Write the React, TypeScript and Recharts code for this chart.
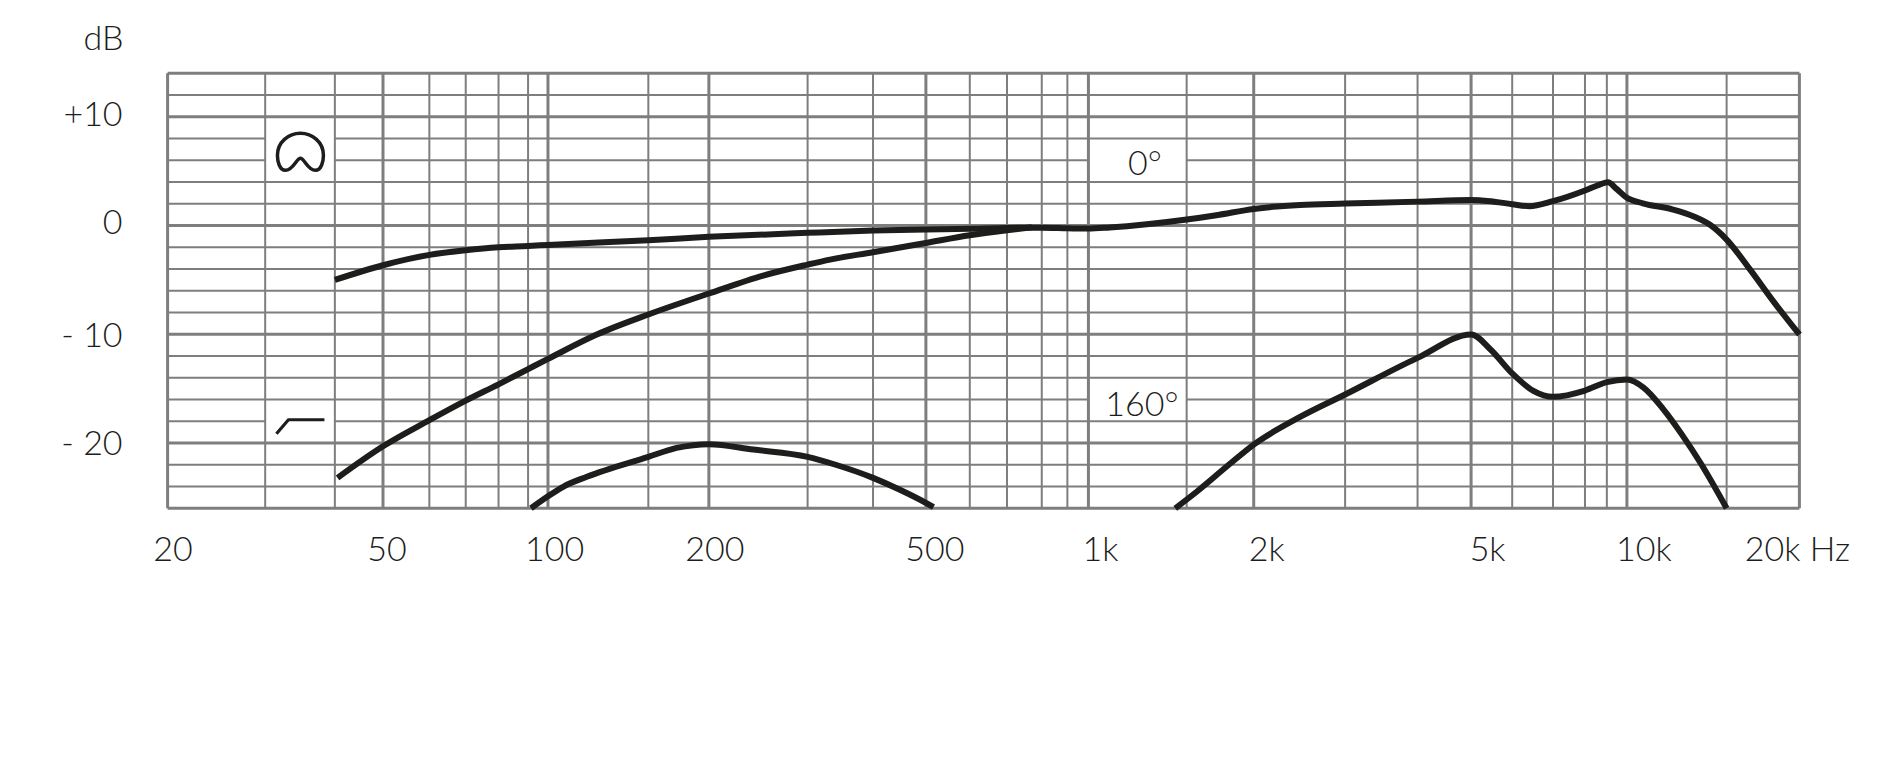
import React from "react";
import { LineChart, Line, XAxis, YAxis, ReferenceLine, ReferenceDot } from "recharts";

// Frequencies of the drawn vertical grid lines, and where the (hand-spaced) print puts them along the axis (0..1)
const gridFreqs = [20, 30, 40, 50, 60, 70, 80, 90, 100, 150, 200, 300, 400, 500, 600, 700, 800, 900, 1000, 1500, 2000, 3000, 4000, 5000, 6000, 7000, 8000, 9000, 10000, 15000, 20000];
const gridPlaces = [0, 0.0598, 0.1025, 0.1320, 0.1604, 0.1827, 0.2028, 0.2209, 0.2331, 0.2946, 0.3317, 0.3922, 0.4323, 0.4647, 0.4916, 0.5144, 0.5357, 0.5514, 0.5643, 0.6245, 0.6656, 0.7216, 0.7660, 0.7988, 0.8240, 0.8490, 0.8686, 0.8820, 0.8943, 0.9554, 1];
const majorFreqs = [20, 50, 100, 200, 500, 1000, 2000, 5000, 10000, 20000];

const dbLines = [14, 12, 10, 8, 6, 4, 2, 0, -2, -4, -6, -8, -10, -12, -14, -16, -18, -20, -22, -24, -26];
const dbMajor = [14, 10, 0, -10, -20, -26];
// Horizontal rules are interrupted where the print keeps a white patch for an icon or a label
const dbGaps: Record<number, number[][]> = {
  8: [[30, 40]],
  6: [[30, 40], [1000, 1500]],
  [-16]: [[1000, 1500]],
  [-18]: [[30, 40]],
};

const xTickValues = [20, 50, 100, 200, 500, 1000, 2000, 5000, 10000, 20000];
const xTickNames = ["20", "50", "100", "200", "500", "1k", "2k", "5k", "10k", "20k Hz"];
const xTickShift = [5.4, 4, 6.6, 6, 9, 12, 13, 16.5, 17, -2];

const yTickValues = [10, 0, -10, -20];
const yTickNames = ["+10", "0", "- 10", "- 20"];
const yTickShift = [-4, -5, -1, -2];

const front0Freq = [40, 50, 60, 70, 80, 90, 100, 150, 200, 300, 400, 500, 600, 700, 800, 900, 1000, 1091, 1500, 1704, 2000, 2457, 3000, 4000, 5000, 5450, 6000, 6400, 7000, 8000, 8660, 9050, 9470, 10000, 10670, 12060, 13090, 14000, 15000, 16460, 18060, 20000];
const front0Db = [-5.0, -3.65, -2.7, -2.27, -2.0, -1.88, -1.78, -1.35, -1.04, -0.67, -0.46, -0.37, -0.3, -0.22, -0.2, -0.25, -0.28, -0.18, 0.55, 0.95, 1.53, 1.9, 2.02, 2.2, 2.36, 2.24, 1.96, 1.78, 2.24, 3.22, 3.77, 3.98, 3.37, 2.55, 2.05, 1.47, 0.86, 0.09, -1.29, -4.05, -6.99, -10.02];

const filteredFreq = [40.5, 50, 60, 70, 80, 90, 100, 121.8, 150, 200, 250, 300, 331, 400, 500, 600, 700, 770];
const filteredDb = [-23.2, -20.3, -17.9, -16.1, -14.6, -13.2, -12.26, -10.02, -8.18, -6.25, -4.6, -3.59, -3.13, -2.45, -1.6, -0.89, -0.43, -0.16];

const rearLowFreq = [91.4, 100, 106.5, 117, 150, 171.6, 200, 240, 300, 337, 400, 447, 500, 516];
const rearLowDb = [-26, -24.9, -24, -23.1, -21.27, -20.45, -20.1, -20.6, -21.27, -21.95, -23.2, -24.27, -25.5, -25.9];

const rearHighFreq = [1431, 1570, 1797, 2000, 2457, 3000, 4000, 5000, 5450, 6000, 6500, 7000, 8000, 9000, 10000, 10700, 11600, 12500, 13550, 15000];
const rearHighDb = [-26, -24.43, -22, -20.14, -17.6, -15.54, -12.17, -10.02, -11.4, -13.6, -15.2, -15.75, -15.17, -14.4, -14.16, -14.9, -16.9, -19.2, -22, -26];

const toPoints = (fs: number[], ds: number[]) => fs.map((f, i) => ({ f, db: ds[i] }));

const INK = "#1d1d1b";
const GRID = "#7e7e7e";
const FONT = "Lato, 'Noto Sans', sans-serif";

function printedScale(dom: number[] = [20, 20000], rng: number[] = [0, 1]): any {
  const s: any = (v: number) => {
    const lv = Math.log(v);
    let i = 0;
    while (i < gridFreqs.length - 2 && v > gridFreqs[i + 1]) i++;
    const a = Math.log(gridFreqs[i]);
    const b = Math.log(gridFreqs[i + 1]);
    const p = gridPlaces[i] + ((lv - a) / (b - a)) * (gridPlaces[i + 1] - gridPlaces[i]);
    return rng[0] + p * (rng[1] - rng[0]);
  };
  s.domain = (d?: number[]) => (d ? printedScale(d, rng) : dom);
  s.range = (r?: number[]) => (r ? printedScale(dom, r) : rng);
  s.copy = () => printedScale(dom, rng);
  s.ticks = () => gridFreqs;
  return s;
}

const textStyle = { fontFamily: FONT, fontSize: 34, fontWeight: 300, fill: INK };

const XTick = (p: any) => {
  const i = xTickValues.indexOf(p.payload.value);
  return (
    <text x={p.x + (xTickShift[i] ?? 0)} y={p.y + 31} textAnchor="middle" dominantBaseline="central" style={textStyle}>
      {xTickNames[i]}
    </text>
  );
};

const YTick = (p: any) => {
  const i = yTickValues.indexOf(p.payload.value);
  return (
    <text x={p.x - 37} y={p.y + (yTickShift[i] ?? 0)} textAnchor="end" dominantBaseline="central" style={textStyle}>
      {yTickNames[i]}
    </text>
  );
};

const Cardioid = (p: any) => (
  <path
    transform={`translate(${p.cx},${p.cy})`}
    d="M0,7 C-4,7 -7,19 -15,19 C-21,19 -23,10 -23,4 C-23,-9 -12,-18 0,-18 C12,-18 23,-9 23,4 C23,10 21,19 15,19 C7,19 4,7 0,7 Z"
    fill="none"
    stroke={INK}
    strokeWidth={3.5}
  />
);

const LowCut = (p: any) => (
  <path transform={`translate(${p.cx},${p.cy})`} d="M-24,7 L-12,-7 L24,-7" fill="none" stroke={INK} strokeWidth={3.2} />
);

const angleLabel = (label: string) => (p: any) => (
  <text x={p.cx} y={p.cy} textAnchor="middle" dominantBaseline="central" style={textStyle}>
    {label}
  </text>
);

function spans(db: number): number[][] {
  const out: number[][] = [];
  let from = 20;
  for (const [a, b] of dbGaps[db] ?? []) {
    out.push([from, a]);
    from = b;
  }
  out.push([from, 20000]);
  return out;
}

const curves = [
  toPoints(front0Freq, front0Db),
  toPoints(filteredFreq, filteredDb),
  toPoints(rearLowFreq, rearLowDb),
  toPoints(rearHighFreq, rearHighDb),
];

export default function App() {
  return (
    <div style={{ position: "absolute", left: 0, top: 0, width: 1900, height: 763, background: "#fff" }}>
      <LineChart
        width={1900}
        height={763}
        margin={{ top: 73.3, right: 100.6, bottom: 194.7, left: 47.6 }}
      >
        <XAxis
          dataKey="f"
          type="number"
          scale={printedScale()}
          domain={[20, 20000]}
          ticks={xTickValues}
          interval={0}
          axisLine={false}
          tickLine={false}
          height={60}
          tick={<XTick />}
          allowDuplicatedCategory={false}
        />
        <YAxis
          dataKey="db"
          type="number"
          domain={[-26, 14]}
          ticks={yTickValues}
          interval={0}
          axisLine={false}
          tickLine={false}
          width={120}
          tick={<YTick />}
        />
        {dbLines.map((d) =>
          spans(d).map(([a, b]) => (
            <ReferenceLine
              key={`h${d}-${a}`}
              segment={[{ x: a, y: d }, { x: b, y: d }]}
              stroke={GRID}
              strokeWidth={dbMajor.includes(d) ? 3 : 2}
            />
          ))
        )}
        {gridFreqs.map((f) => (
          <ReferenceLine key={`v${f}`} x={f} stroke={GRID} strokeWidth={majorFreqs.includes(f) ? 3 : 2} />
        ))}
        {curves.map((pts, i) => (
          <Line key={i} data={pts} dataKey="db" type="monotone" stroke={INK} strokeWidth={6} dot={false} isAnimationActive={false} />
        ))}
        <ReferenceDot x={34.7} y={6.83} shape={<Cardioid />} />
        <ReferenceDot x={34.7} y={-18.5} shape={<LowCut />} />
        <ReferenceDot x={1262} y={5.9} shape={angleLabel("0°")} />
        <ReferenceDot x={1247} y={-16.3} shape={angleLabel("160°")} />
      </LineChart>
      <svg width={140} height={60} style={{ position: "absolute", left: 0, top: 10 }}>
        <text x={123.4} y={26} textAnchor="end" dominantBaseline="central" style={textStyle}>
          dB
        </text>
      </svg>
    </div>
  );
}
